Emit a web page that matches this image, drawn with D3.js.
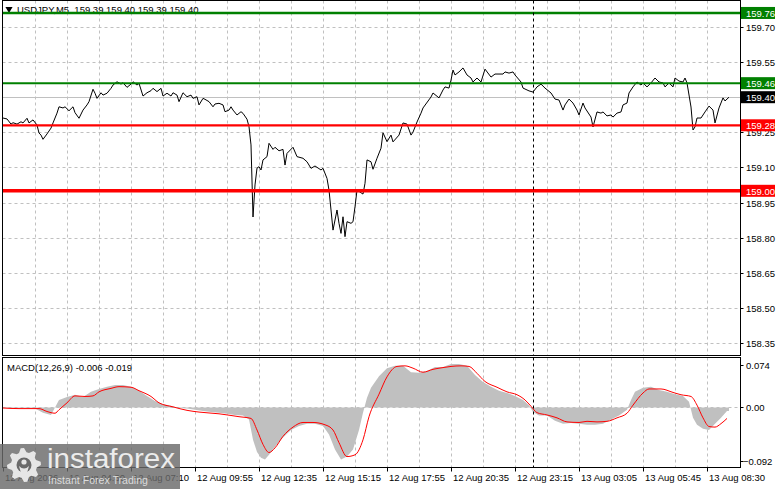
<!DOCTYPE html>
<html><head><meta charset="utf-8">
<script src="https://cdn.jsdelivr.net/npm/d3@7"></script>
<style>
html,body{margin:0;padding:0;background:#fff;}
svg{display:block;font-family:"Liberation Sans",Arial,sans-serif;}
</style></head><body>
<svg id="c" width="781" height="489"></svg>
<script>
// ---------- data ----------
const symbolTitle = "USDJPY,M5  159.39 159.40 159.39 159.40";
const macdTitle = "MACD(12,26,9) -0.006 -0.019";
// [bar number, close]
const priceSeries = [
[0,159.311],[2,159.307],[4,159.285],[5,159.291],[7,159.285],[9,159.295],[10,159.290],[12,159.310],[13,159.290],[15,159.303],
[17,159.281],[18,159.247],[19,159.238],[20,159.220],[22,159.243],[24,159.268],[25,159.290],[27,159.332],[28,159.359],[30,159.354],
[31,159.359],[33,159.342],[35,159.359],[36,159.334],[38,159.310],[40,159.345],[42,159.367],[43,159.381],[45,159.434],[46,159.417],
[47,159.395],[49,159.419],[50,159.409],[52,159.417],[54,159.438],[55,159.452],[57,159.466],[59,159.456],[60,159.462],[62,159.442],
[64,159.456],[65,159.466],[67,159.452],[68,159.459],[70,159.405],[72,159.419],[74,159.428],[75,159.438],[77,159.424],[79,159.438],
[80,159.405],[82,159.417],[84,159.405],[85,159.419],[87,159.409],[88,159.381],[90,159.419],[92,159.402],[94,159.409],[95,159.395],
[97,159.402],[98,159.367],[100,159.395],[101,159.391],[103,159.381],[105,159.359],[106,159.371],[108,159.374],[110,159.367],[111,159.338],
[113,159.345],[114,159.359],[115,159.345],[117,159.324],[119,159.338],[120,159.331],[122,159.306],[123,159.274],[124,159.196],[125,158.888],
[126,159.025],[127,159.097],[128,159.103],[129,159.089],[130,159.132],[132,159.146],[133,159.203],[135,159.177],[136,159.186],[138,159.171],
[140,159.177],[141,159.110],[142,159.160],[145,159.186],[147,159.146],[150,159.139],[152,159.124],[154,159.096],[156,159.106],[159,159.089],
[160,159.096],[162,159.053],[163,159.003],[164,158.918],[165,158.832],[167,158.918],[168,158.861],[169,158.818],[170,158.889],[171,158.804],
[172,158.868],[174,158.861],[175,158.868],[176,158.932],[177,159.003],[180,158.986],[181,159.032],[182,159.132],[184,159.124],[185,159.092],
[187,159.139],[189,159.182],[190,159.248],[192,159.210],[194,159.238],[195,159.209],[198,159.238],[200,159.290],[202,159.285],[204,159.238],
[205,159.251],[207,159.294],[209,159.332],[210,159.354],[214,159.401],[215,159.418],[218,159.397],[220,159.431],[221,159.444],[223,159.439],
[224,159.473],[225,159.516],[226,159.495],[228,159.508],[230,159.525],[232,159.495],[234,159.482],[235,159.465],[237,159.482],[239,159.465],
[241,159.520],[244,159.486],[246,159.499],[250,159.499],[251,159.508],[253,159.503],[255,159.508],[256,159.495],[259,159.465],[260,159.439],
[263,159.427],[265,159.422],[267,159.444],[269,159.456],[271,159.439],[274,159.418],[276,159.392],[278,159.388],[280,159.345],[281,159.367],
[283,159.392],[285,159.375],[287,159.345],[288,159.324],[290,159.375],[291,159.354],[294,159.315],[295,159.273],[297,159.337],[299,159.332],
[300,159.337],[302,159.320],[304,159.324],[305,159.315],[307,159.332],[309,159.337],[310,159.367],[312,159.375],[313,159.418],[315,159.444],
[317,159.465],[319,159.452],[320,159.461],[322,159.444],[324,159.461],[326,159.482],[328,159.465],[330,159.461],[331,159.444],[333,159.461],
[335,159.444],[336,159.482],[338,159.469],[340,159.465],[341,159.482],[342,159.461],[344,159.358],[345,159.260],[346,159.273],[347,159.311],
[349,159.311],[351,159.337],[353,159.362],[355,159.345],[356,159.290],[358,159.354],[360,159.397],[361,159.384],[363,159.400]
];
// MACD histogram [bar, value]
const macdHist = [
[0,-0.001],[8,-0.001],[16,-0.002],[20,-0.009],[24,-0.013],[26,0.000],[28,0.013],[32,0.018],[36,0.022],[40,0.018],
[44,0.027],[48,0.032],[52,0.036],[56,0.039],[60,0.039],[64,0.036],[68,0.029],[72,0.020],[76,0.011],[80,0.006],
[84,0.003],[88,-0.001],[92,-0.002],[96,-0.004],[100,-0.006],[104,-0.008],[108,-0.009],[112,-0.011],[116,-0.013],[120,-0.014],
[123,-0.021],[125,-0.056],[127,-0.077],[129,-0.087],[131,-0.090],[133,-0.082],[136,-0.068],[140,-0.052],[144,-0.039],[148,-0.032],
[152,-0.028],[156,-0.028],[160,-0.032],[163,-0.047],[166,-0.073],[169,-0.090],[172,-0.085],[175,-0.073],[178,-0.039],[180,-0.009],
[182,0.017],[184,0.034],[186,0.044],[188,0.054],[192,0.068],[196,0.072],[200,0.072],[204,0.061],[208,0.060],[212,0.063],
[216,0.070],[220,0.070],[224,0.075],[228,0.075],[232,0.072],[236,0.056],[240,0.044],[244,0.036],[248,0.029],[252,0.025],
[256,0.020],[260,0.013],[263,0.004],[265,-0.008],[268,-0.014],[272,-0.014],[276,-0.023],[280,-0.028],[284,-0.027],[288,-0.028],
[292,-0.030],[296,-0.030],[300,-0.028],[304,-0.021],[308,-0.014],[312,-0.004],[314,0.013],[316,0.027],[320,0.034],[324,0.036],
[328,0.030],[332,0.027],[336,0.023],[340,0.020],[343,0.010],[345,-0.018],[347,-0.030],[350,-0.037],[353,-0.039],[356,-0.028],
[359,-0.018],[362,-0.006],[363,-0.006]
];
// MACD signal [bar, value]
const macdSignal = [
[0,-0.001],[8,-0.002],[18,-0.002],[22,-0.007],[26,-0.010],[28,-0.004],[32,0.008],[36,0.020],[41,0.019],[45,0.020],
[48,0.027],[54,0.033],[58,0.036],[64,0.035],[68,0.029],[74,0.019],[78,0.008],[85,0.001],[92,-0.005],[98,-0.008],
[108,-0.011],[118,-0.016],[124,-0.019],[127,-0.039],[130,-0.064],[133,-0.078],[136,-0.070],[140,-0.050],[145,-0.034],[150,-0.026],
[155,-0.026],[161,-0.030],[165,-0.039],[168,-0.061],[172,-0.085],[176,-0.082],[180,-0.056],[183,-0.016],[188,0.023],[192,0.053],
[197,0.071],[201,0.072],[205,0.068],[210,0.061],[215,0.066],[220,0.069],[224,0.071],[229,0.072],[233,0.071],[237,0.059],
[241,0.045],[247,0.035],[252,0.027],[257,0.022],[261,0.013],[264,0.002],[267,-0.009],[272,-0.013],[277,-0.018],[282,-0.025],
[288,-0.026],[292,-0.024],[297,-0.025],[302,-0.024],[307,-0.018],[312,-0.010],[315,0.004],[320,0.025],[323,0.032],[329,0.032],
[335,0.026],[339,0.022],[344,0.019],[347,0.004],[350,-0.018],[353,-0.033],[356,-0.034],[359,-0.028],[362,-0.019]
];
const gridPrices = [159.70,159.55,159.40,159.25,159.10,158.95,158.80,158.65,158.50,158.35];
const priceTickLabels = [159.70,159.55,159.25,159.10,158.95,158.80,158.65,158.50,158.35];
const greenLevels = [159.76,159.46];
const redLevels = [159.28,159.00];
const lastPrice = 159.40;
const macdTicks = [0.074,0.00,-0.092];
const timeLabels = ["12 Aug 2026","12 Aug 04:30","12 Aug 07:10","12 Aug 09:55","12 Aug 12:35","12 Aug 15:15",
  "12 Aug 17:55","12 Aug 20:35","12 Aug 23:15","13 Aug 03:05","13 Aug 05:45","13 Aug 08:30"];
const timeLabelBars = [0,32,64,96,128,160,192,224,256,288,320,352];
const gridBars = [16,32,48,64,80,96,112,128,144,160,176,192,208,224,240,256,272,288,304,320,336,352];
const separatorBar = 265;

// ---------- layout ----------
const svg = d3.select("#c");
const L = 2.5, R = 740.5, mainTop = 0.5, mainBot = 355.5, macdTop = 357.5, macdBot = 467.5;
const x = d3.scaleLinear().domain([0, 368.75]).range([3, 740.5]);
const y = d3.scaleLinear().domain([158.35, 159.70]).range([342.9, 27]);
const ym = d3.scaleLinear().domain([-0.092, 0.074]).range([460.6, 364.7]);
const fmt2 = d3.format(".2f");

svg.append("rect").attr("width",781).attr("height",489).attr("fill","#fff");

const defs = svg.append("defs");
defs.append("clipPath").attr("id","cm").append("rect").attr("x",L).attr("y",mainTop).attr("width",R-L).attr("height",mainBot-mainTop);
defs.append("clipPath").attr("id","cd").append("rect").attr("x",L).attr("y",macdTop).attr("width",R-L).attr("height",macdBot-macdTop);

const gm = svg.append("g").attr("clip-path","url(#cm)");
const gd = svg.append("g").attr("clip-path","url(#cd)");
const gridCol = "#c0c0c0";

[[gm, mainTop, mainBot],[gd, macdTop, macdBot]].forEach(([g,t,b]) => {
  g.selectAll(null).data(gridBars).enter().append("line")
    .attr("x1", d => Math.round(x(d))+0.5).attr("x2", d => Math.round(x(d))+0.5)
    .attr("y1", t).attr("y2", b)
    .attr("stroke", gridCol).attr("stroke-dasharray","3,3");
});
gm.selectAll(null).data(gridPrices.filter(p => p !== lastPrice)).enter().append("line")
  .attr("x1", L).attr("x2", R)
  .attr("y1", d => Math.round(y(d))+0.5).attr("y2", d => Math.round(y(d))+0.5)
  .attr("stroke", gridCol).attr("stroke-dasharray","3,3");
gm.append("line").attr("x1",L).attr("x2",R)
  .attr("y1", Math.round(y(lastPrice))+0.5).attr("y2", Math.round(y(lastPrice))+0.5)
  .attr("stroke","#c0c0c0");
gd.append("line").attr("x1",L).attr("x2",R)
  .attr("y1", Math.round(ym(0))+0.5).attr("y2", Math.round(ym(0))+0.5)
  .attr("stroke",gridCol).attr("stroke-dasharray","3,3");

gm.append("path").attr("d", d3.symbol(d3.symbolTriangle, 22)())
  .attr("transform", `translate(9,9) rotate(180)`).attr("fill","#000");
gm.append("text").attr("x",17).attr("y",13).attr("font-size","9.5px").attr("fill","#000")
  .attr("xml:space","preserve").text(symbolTitle);

const line = d3.line().x(d => x(d[0])).y(d => y(d[1]));
gm.append("path").datum(priceSeries).attr("d", line)
  .attr("fill","none").attr("stroke","#000").attr("stroke-width",1);

gm.selectAll(null).data(greenLevels).enter().append("line")
  .attr("x1",L).attr("x2",R).attr("y1", d => y(d)).attr("y2", d => y(d))
  .attr("stroke","#008000").attr("stroke-width",(d,i) => i===0 ? 2.5 : 2);
gm.selectAll(null).data(redLevels).enter().append("line")
  .attr("x1",L).attr("x2",R).attr("y1", d => y(d)).attr("y2", d => y(d))
  .attr("stroke","#ff0000").attr("stroke-width",(d,i) => i===0 ? 2.2 : 3.5);

const area = d3.area().x(d => x(d[0])).y0(ym(0)).y1(d => ym(d[1]));
gd.append("path").datum(macdHist).attr("d", area).attr("fill","#c0c0c0");
const sline = d3.line().curve(d3.curveMonotoneX).x(d => x(d[0])).y(d => ym(d[1]));
gd.append("path").datum(macdSignal).attr("d", sline).attr("fill","none").attr("stroke","#ff0000").attr("stroke-width",1);
gd.append("text").attr("x",7).attr("y",371).attr("font-size","9.5px").attr("fill","#000").text(macdTitle);

[[gm,mainTop,mainBot],[gd,macdTop,macdBot]].forEach(([g,t,b]) => {
  g.append("line").attr("x1", Math.round(x(separatorBar))+0.5).attr("x2", Math.round(x(separatorBar))+0.5)
    .attr("y1",t).attr("y2",b).attr("stroke","#000").attr("stroke-dasharray","3,3");
});

svg.append("rect").attr("x",L).attr("y",mainTop).attr("width",R-L).attr("height",mainBot-mainTop)
  .attr("fill","none").attr("stroke","#000");
svg.append("rect").attr("x",L).attr("y",macdTop).attr("width",R-L).attr("height",macdBot-macdTop)
  .attr("fill","none").attr("stroke","#000");

const ax = svg.append("g").attr("font-size","9.5px").attr("fill","#000");
ax.selectAll(null).data(priceTickLabels).enter().append("line")
  .attr("x1",R).attr("x2",R+3).attr("y1", d => Math.round(y(d))+0.5).attr("y2", d => Math.round(y(d))+0.5).attr("stroke","#000");
ax.selectAll(null).data(priceTickLabels).enter().append("text")
  .attr("x",746).attr("y", d => y(d)+4).text(d => fmt2(d));

const tags = [...greenLevels.map(v => [v,"#008000"]), ...redLevels.map(v => [v,"#ff0000"]), [lastPrice,"#000"]];
const tg = svg.append("g");
tg.selectAll(null).data(tags).enter().append("rect")
  .attr("x",741).attr("y", d => y(d[0]) - 6).attr("width",34).attr("height",12).attr("fill", d => d[1]);
tg.selectAll(null).data(tags).enter().append("text")
  .attr("x",746).attr("y", d => y(d[0]) + 4).attr("font-size","9.5px").attr("fill","#fff").text(d => fmt2(d[0]));

const mfmt = v => v === 0 ? "0.00" : d3.format(".3f")(v);
ax.selectAll(null).data(macdTicks).enter().append("line")
  .attr("x1",R).attr("x2",R+3).attr("y1", d => Math.round(ym(d))+0.5).attr("y2", d => Math.round(ym(d))+0.5).attr("stroke","#000");
ax.selectAll(null).data(macdTicks).enter().append("text")
  .attr("x", d => d < 0 ? 743 : 746).attr("y", d => ym(d)+4).text(mfmt);

const tx = svg.append("g").attr("font-size","9.5px").attr("fill","#000");
tx.selectAll(null).data(timeLabelBars).enter().append("line")
  .attr("x1", d => Math.round(x(d))+0.5).attr("x2", d => Math.round(x(d))+0.5)
  .attr("y1", macdBot).attr("y2", macdBot+4).attr("stroke","#000");
tx.selectAll(null).data(timeLabelBars).enter().append("text")
  .attr("x", d => x(d)+2).attr("y", 481).text((d,i) => timeLabels[i]);

const wm = svg.append("g");
wm.append("rect").attr("x",0).attr("y",444).attr("width",180).attr("height",45).attr("fill","#6a6a6a").attr("opacity",0.82);
const cx = 24, cy = 465, ro = 17, ri = 13, teeth = 8;
let gp = "";
for (let k = 0; k < teeth*4; k++) {
  const a = (k/(teeth*4))*2*Math.PI - Math.PI/2;
  const r = (Math.floor((k+1)/2) % 2 === 0) ? ro : ri;
  gp += (k===0 ? "M" : "L") + (cx + r*Math.cos(a)).toFixed(1) + "," + (cy + r*Math.sin(a)).toFixed(1);
}
gp += "Z";
wm.append("path").attr("d", gp).attr("fill","#e6e6e6");
wm.append("circle").attr("cx",cx).attr("cy",cy).attr("r",7.5).attr("fill","#6a6a6a");
wm.append("circle").attr("cx",cx).attr("cy",cy-3).attr("r",2.6).attr("fill","#e6e6e6");
wm.append("path").attr("d",`M${cx-5},${cy+1}Q${cx},${cy+6} ${cx+5},${cy+1}L${cx+3},${cy+8}L${cx-3},${cy+8}Z`).attr("fill","#e6e6e6");
wm.append("text").attr("x",47).attr("y",468).attr("font-size","27px").attr("fill","#ececec")
  .attr("textLength",128).attr("lengthAdjust","spacingAndGlyphs").text("instaforex");
wm.append("text").attr("x",48).attr("y",484).attr("font-size","11.5px").attr("fill","#dcdcdc")
  .attr("textLength",100).attr("lengthAdjust","spacingAndGlyphs").text("Instant Forex Trading");
</script>
</body></html>
